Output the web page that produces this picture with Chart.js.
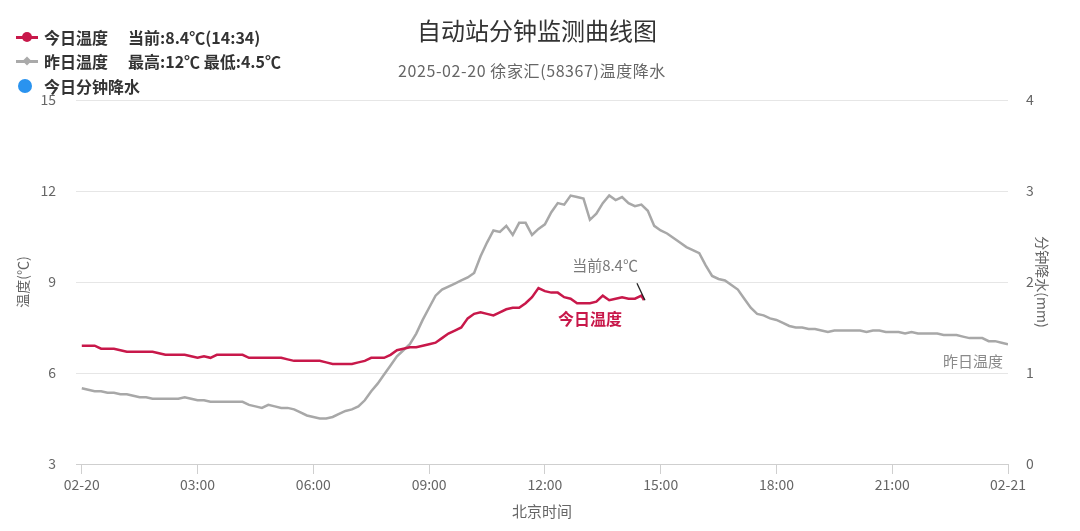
<!DOCTYPE html>
<html>
<head>
<meta charset="utf-8">
<script src="https://cdn.jsdelivr.net/npm/chart.js@4"></script>
<style>
  html, body { margin: 0; padding: 0; background: #fff; }
  #wrap { position: relative; width: 1080px; height: 531px; font-family: "Noto Sans CJK SC", "Noto Sans", sans-serif; }
  #c { position: absolute; left: 0; top: 0; }
  .title { position: absolute; left: 0; width: 1074px; text-align: center; top: 13px; font-size: 24px; color: #333; line-height: 34px; }
  .subtitle { position: absolute; left: 0; width: 1064px; text-align: center; top: 59px; font-size: 16px; letter-spacing: 0.6px; color: #666; line-height: 22px; }
  .legend { position: absolute; left: 0; top: 0; }
  .item { position: absolute; left: 44px; height: 24px; line-height: 24px; font-size: 16px; font-weight: bold; color: #333; white-space: nowrap; }
  .item .extra { position: absolute; left: 84px; top: 0; font-weight: bold; }
  .sym { position: absolute; }
</style>
</head>
<body>
<div id="wrap">
  <canvas id="c" width="1080" height="531"></canvas>
  <div class="title" id="title"></div>
  <div class="subtitle" id="subtitle"></div>
  <div class="legend" id="legend"></div>
</div>
<script>
// ---------- data ----------
const chartTitle = '自动站分钟监测曲线图';
const chartSubtitle = '2025-02-20 徐家汇(58367)温度降水';
const xTickLabels = ['02-20', '03:00', '06:00', '09:00', '12:00', '15:00', '18:00', '21:00', '02-21'];
const stepMinutes = 10;          // spacing of the sampled readings below
const tickEveryMinutes = 180;
const seriesNames = ['今日温度', '昨日温度', '今日分钟降水'];

// today's temperature, every 10 minutes from 00:00 to 14:30
const todayTemp = [
  6.9, 6.9, 6.9, 6.8, 6.8, 6.8, 6.75, 6.7, 6.7, 6.7, 6.7, 6.7,
  6.65, 6.6, 6.6, 6.6, 6.6, 6.55, 6.5, 6.55, 6.5, 6.6, 6.6, 6.6,
  6.6, 6.6, 6.5, 6.5, 6.5, 6.5, 6.5, 6.5, 6.45, 6.4, 6.4, 6.4,
  6.4, 6.4, 6.35, 6.3, 6.3, 6.3, 6.3, 6.35, 6.4, 6.5, 6.5, 6.5,
  6.6, 6.75, 6.8, 6.85, 6.85, 6.9, 6.95, 7.0, 7.15, 7.3, 7.4, 7.5,
  7.8, 7.95, 8.0, 7.95, 7.9, 8.0, 8.1, 8.15, 8.15, 8.3, 8.5, 8.8,
  8.7, 8.65, 8.65, 8.5, 8.45, 8.3, 8.3, 8.3, 8.35, 8.55, 8.4, 8.45,
  8.5, 8.45, 8.45, 8.55
];
const currentTime = '14:34';
const currentTemp = 8.4;

// yesterday's temperature, every 10 minutes from 00:00 to 24:00
const yesterdayTemp = [
  5.5, 5.45, 5.4, 5.4, 5.35, 5.35, 5.3, 5.3, 5.25, 5.2, 5.2, 5.15,
  5.15, 5.15, 5.15, 5.15, 5.2, 5.15, 5.1, 5.1, 5.05, 5.05, 5.05, 5.05,
  5.05, 5.05, 4.95, 4.9, 4.85, 4.95, 4.9, 4.85, 4.85, 4.8, 4.7, 4.6,
  4.55, 4.5, 4.5, 4.55, 4.65, 4.75, 4.8, 4.9, 5.1, 5.4, 5.65, 5.95,
  6.25, 6.55, 6.75, 6.95, 7.3, 7.75, 8.15, 8.55, 8.75, 8.85, 8.95, 9.05,
  9.15, 9.3, 9.85, 10.3, 10.7, 10.65, 10.85, 10.55, 10.95, 10.95, 10.55, 10.75,
  10.9, 11.3, 11.6, 11.55, 11.85, 11.8, 11.75, 11.05, 11.25, 11.6, 11.85, 11.7,
  11.8, 11.6, 11.5, 11.55, 11.35, 10.85, 10.7, 10.6, 10.45, 10.3, 10.15, 10.05,
  9.95, 9.55, 9.2, 9.1, 9.05, 8.9, 8.75, 8.45, 8.15, 7.95, 7.9, 7.8,
  7.75, 7.65, 7.55, 7.5, 7.5, 7.45, 7.45, 7.4, 7.35, 7.4, 7.4, 7.4,
  7.4, 7.4, 7.35, 7.4, 7.4, 7.35, 7.35, 7.35, 7.3, 7.35, 7.3, 7.3,
  7.3, 7.3, 7.25, 7.25, 7.25, 7.2, 7.15, 7.15, 7.15, 7.05, 7.05, 7.0,
  6.95
];
const yesterdayMax = 12;
const yesterdayMin = 4.5;

// today's minute precipitation (none recorded)
const rainToday = [];

const tempTicks = [3, 6, 9, 12, 15];
const rainTicks = [0, 1, 2, 3, 4];

// ---------- styles ----------
const RED = '#c8184a';
const GREY = '#a8a8a8';
const BLUE = '#2a93ef';
const FONT = '"Noto Sans CJK SC", "Noto Sans", sans-serif';

// ---------- header & legend ----------
document.getElementById('title').textContent = chartTitle;
document.getElementById('subtitle').textContent = chartSubtitle;

const legend = document.getElementById('legend');
const legendRows = [
  { name: seriesNames[0], extra: '当前:' + currentTemp + '℃(' + currentTime + ')', sym: 'line-dot', color: RED, top: 25 },
  { name: seriesNames[1], extra: '最高:' + yesterdayMax + '℃ 最低:' + yesterdayMin + '℃', sym: 'line-diamond', color: '#aaa', top: 49 },
  { name: seriesNames[2], extra: '', sym: 'dot', color: BLUE, top: 74 }
];
legendRows.forEach(r => {
  const cy = r.top + 12;
  if (r.sym !== 'dot') {
    const l = document.createElement('div');
    l.className = 'sym';
    Object.assign(l.style, { left: '16px', top: (cy - 1.5) + 'px', width: '22px', height: '3px', background: r.color });
    legend.appendChild(l);
  }
  const m = document.createElement('div');
  m.className = 'sym';
  if (r.sym === 'line-dot') {
    Object.assign(m.style, { left: '22px', top: (cy - 5) + 'px', width: '10px', height: '10px', borderRadius: '50%', background: r.color });
  } else if (r.sym === 'line-diamond') {
    Object.assign(m.style, { left: '23px', top: (cy - 4) + 'px', width: '8px', height: '8px', background: r.color, transform: 'rotate(45deg) scale(0.8)' });
  } else {
    Object.assign(m.style, { left: '18px', top: (cy - 7) + 'px', width: '14px', height: '14px', borderRadius: '50%', background: r.color });
  }
  legend.appendChild(m);
  const t = document.createElement('div');
  t.className = 'item';
  t.style.top = r.top + 'px';
  t.textContent = r.name;
  if (r.extra) {
    const e = document.createElement('span');
    e.className = 'extra';
    e.textContent = r.extra;
    t.appendChild(e);
  }
  legend.appendChild(t);
});

// ---------- chart ----------
const toPoints = arr => arr.map((v, i) => ({ x: i * stepMinutes, y: v }));
const [ch, cm] = currentTime.split(':').map(Number);
const todayPoints = toPoints(todayTemp).concat([{ x: ch * 60 + cm, y: currentTemp }]);
const yesterdayPoints = toPoints(yesterdayTemp);

const annotations = {
  id: 'annotations',
  afterDatasetsDraw(chart) {
    const { ctx, scales: { x, y } } = chart;
    const tMeta = chart.getDatasetMeta(0);
    const tLast = tMeta.data[tMeta.data.length - 1];
    const gMeta = chart.getDatasetMeta(1);
    const gLast = gMeta.data[gMeta.data.length - 1];
    ctx.save();
    // pointer to current value
    ctx.strokeStyle = '#222';
    ctx.lineWidth = 1.3;
    ctx.beginPath();
    ctx.moveTo(tLast.x - 7, tLast.y - 17);
    ctx.lineTo(tLast.x + 1, tLast.y);
    ctx.stroke();
    ctx.textBaseline = 'middle';
    ctx.font = '15px ' + FONT;
    ctx.fillStyle = '#7a7a7a';
    ctx.textAlign = 'right';
    ctx.fillText('当前' + currentTemp + '℃', tLast.x - 6, tLast.y - 35);
    // series labels
    ctx.font = 'bold 16px ' + FONT;
    ctx.fillStyle = RED;
    ctx.textAlign = 'center';
    ctx.fillText(seriesNames[0], x.getPixelForValue(790), y.getPixelForValue(7.78));
    ctx.font = '15px ' + FONT;
    ctx.fillStyle = '#8a8a8a';
    ctx.textAlign = 'right';
    ctx.fillText(seriesNames[1], gLast.x - 5, gLast.y + 17);
    ctx.restore();
  }
};

new Chart(document.getElementById('c'), {
  type: 'line',
  data: {
    datasets: [
      { label: seriesNames[0], data: todayPoints, borderColor: RED, backgroundColor: RED, borderWidth: 2.5, pointRadius: 0, tension: 0, yAxisID: 'y' },
      { label: seriesNames[1], data: yesterdayPoints, borderColor: GREY, backgroundColor: GREY, borderWidth: 2.5, pointRadius: 0, tension: 0, yAxisID: 'y' },
      { type: 'bar', label: seriesNames[2], data: rainToday, backgroundColor: BLUE, yAxisID: 'y1' }
    ]
  },
  options: {
    responsive: false,
    animation: false,
    devicePixelRatio: 1,
    layout: { padding: { top: 100, left: 0, right: 0, bottom: 0 } },
    plugins: { legend: { display: false }, title: { display: false }, tooltip: { enabled: false } },
    scales: {
      x: {
        type: 'linear',
        offset: false,
        min: -9,
        max: (xTickLabels.length - 1) * tickEveryMinutes,
        afterBuildTicks: s => { s.ticks = xTickLabels.map((_, i) => ({ value: i * tickEveryMinutes })); },
        afterFit: s => { s.height = 67; },
        grid: { offset: false, drawOnChartArea: false, drawTicks: true, tickLength: 10, color: '#cfcfcf' },
        border: { display: true, color: '#cfcfcf', width: 1 },
        ticks: {
          autoSkip: false, maxRotation: 0, padding: 2, color: '#666',
          font: { family: FONT, size: 14 },
          callback: v => xTickLabels[Math.round(v / tickEveryMinutes)]
        },
        title: { display: true, text: '北京时间', color: '#666', font: { family: FONT, size: 15 }, padding: { top: 0, bottom: 11 } }
      },
      y: {
        position: 'left',
        min: tempTicks[0], max: tempTicks[tempTicks.length - 1],
        afterBuildTicks: s => { s.ticks = tempTicks.map(v => ({ value: v })); },
        afterFit: s => { s.width = 76; },
        grid: { color: '#e6e6e6', drawTicks: false },
        border: { display: false },
        ticks: { padding: 20, color: '#666', font: { family: FONT, size: 14 } },
        title: { display: true, text: '温度(℃)', color: '#666', font: { family: FONT, size: 14 }, padding: { top: 14 } }
      },
      y1: {
        position: 'right',
        display: true,
        min: rainTicks[0], max: rainTicks[rainTicks.length - 1],
        afterBuildTicks: s => { s.ticks = rainTicks.map(v => ({ value: v })); },
        afterFit: s => { s.width = 72; },
        grid: { display: false },
        border: { display: false },
        ticks: { padding: 10, color: '#666', font: { family: FONT, size: 14 } },
        title: { display: true, text: '分钟降水(mm)', color: '#666', font: { family: FONT, size: 14 }, padding: { top: 29 } }
      }
    }
  },
  plugins: [annotations]
});
</script>
</body>
</html>
